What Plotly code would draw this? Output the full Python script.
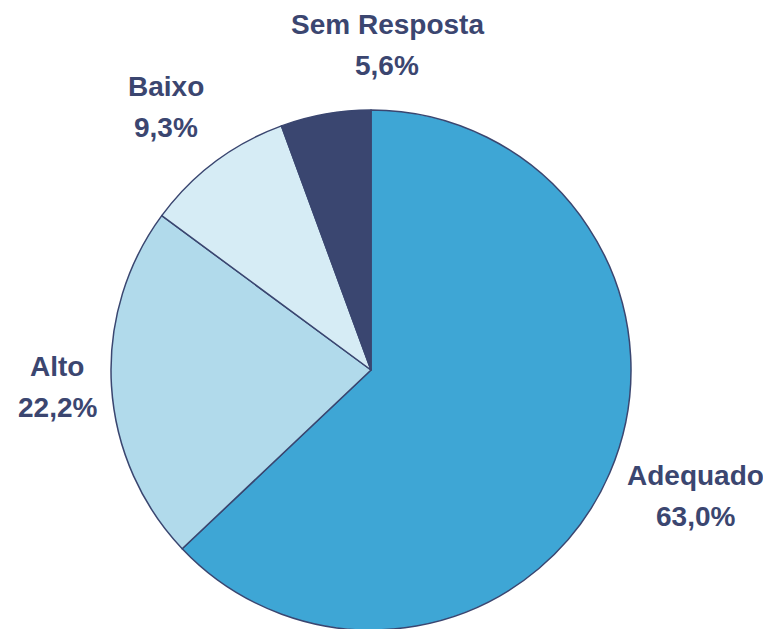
import plotly.graph_objects as go

labels = ["Adequado", "Alto", "Baixo", "Sem Resposta"]
values = [63.0, 22.2, 9.3, 5.6]
colors = ["#3EA6D5", "#B1DAEB", "#D6ECF5", "#3A4670"]
pct_text = ["63,0%", "22,2%", "9,3%", "5,6%"]
# label centre positions in pixels (x, y of first line)
label_pos = [(687, 467), (49, 358), (158, 79), (379, 17)]

W, H = 771, 629
txt_color = "#3B4670"

fig = go.Figure(go.Pie(
    labels=labels, values=values, sort=False, direction="clockwise", rotation=0,
    marker=dict(colors=colors, line=dict(color="#3A4670", width=1.5)),
    textinfo="none", hoverinfo="label+percent",
    domain=dict(x=[103 / W, 623 / W], y=[7 / H, 527 / H]),
    showlegend=False,
))

anns = []
for lab, pt, (px, py) in zip(labels, pct_text, label_pos):
    for i, t in enumerate([lab, pt]):
        anns.append(dict(
            text="<b>" + t + "</b>", x=px / W, y=1 - (py + 41 * i) / H,
            xref="paper", yref="paper",
            xanchor="center", yanchor="middle", showarrow=False,
            font=dict(family="Liberation Sans, Arial, sans-serif", size=28, color=txt_color),
        ))

fig.update_layout(
    width=W, height=H, margin=dict(l=0, r=0, t=0, b=0),
    paper_bgcolor="white", plot_bgcolor="white",
    annotations=anns, separators=",.",
)
fig.write_html("out.html")
